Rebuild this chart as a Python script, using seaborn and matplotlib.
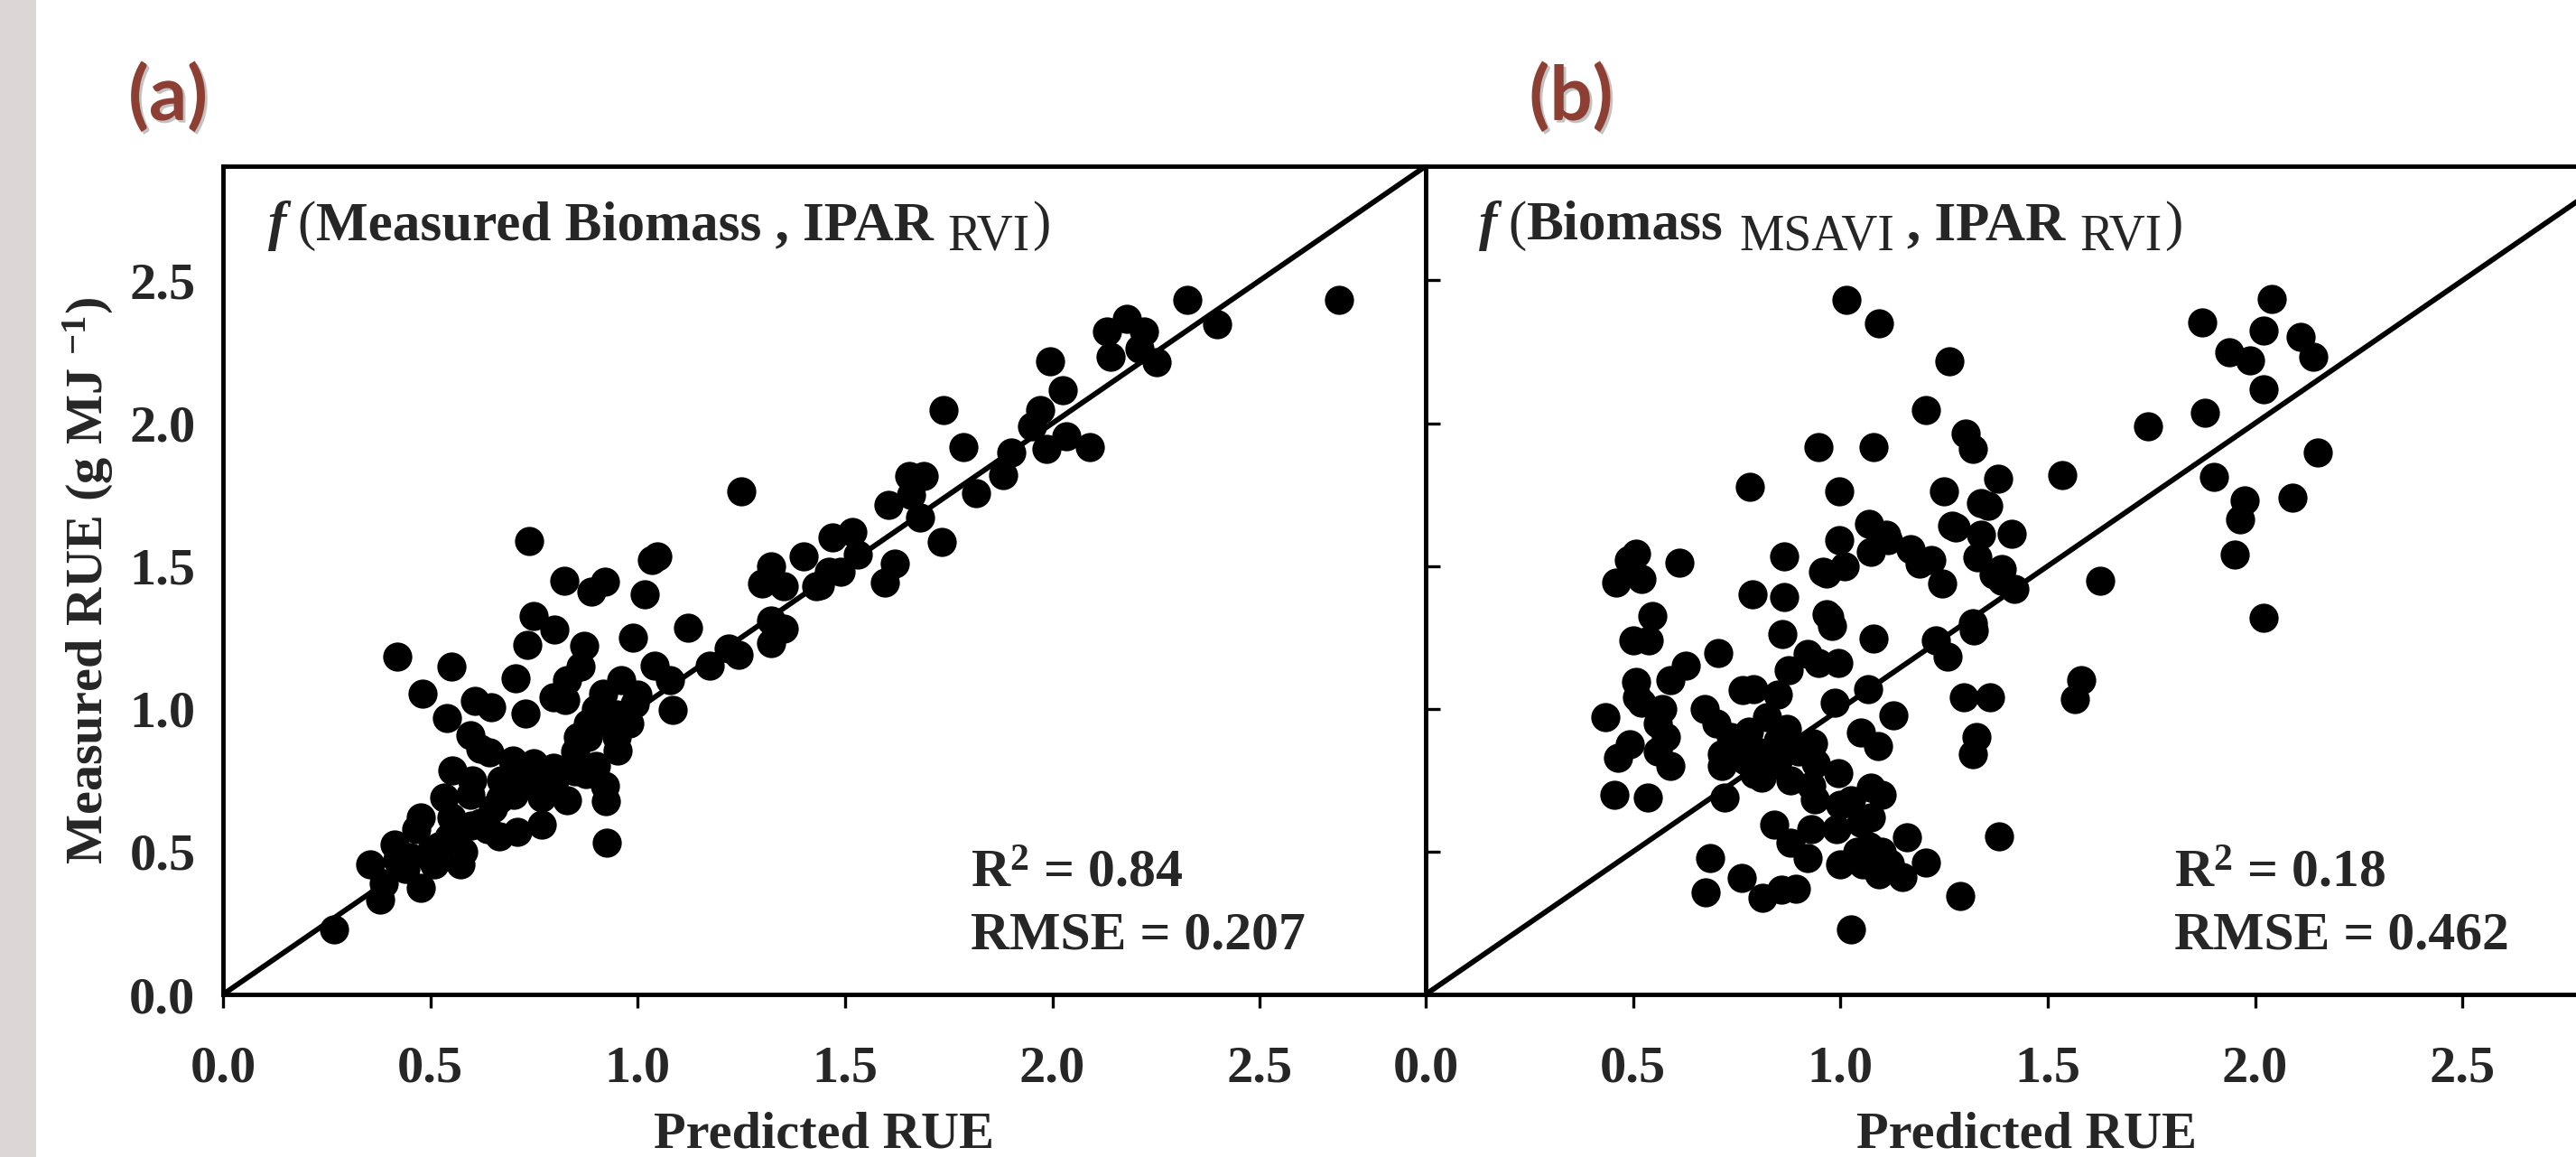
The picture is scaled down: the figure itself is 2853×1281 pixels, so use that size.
import numpy as np
import pandas as pd
import matplotlib
matplotlib.use("Agg")
import matplotlib.pyplot as plt
import matplotlib.patheffects as pe
import matplotlib.transforms as mtransforms
from matplotlib.patches import Rectangle
from matplotlib.ticker import FormatStrFormatter
import seaborn as sns

#%%
##### DATA #####
tick_vals = [0.0, 0.5, 1.0, 1.5, 2.0, 2.5]
axis_max = 2.9

# (a) f(Measured Biomass, IPAR_RVI): (predicted, measured)
points_a = [
    (0.267, 0.228), (0.355, 0.456), (0.379, 0.333), (0.388, 0.39), (0.413, 0.526),
    (0.45, 0.48), (0.476, 0.374), (0.51, 0.456), (0.467, 0.58), (0.476, 0.62),
    (0.534, 0.69), (0.545, 0.55), (0.573, 0.456), (0.598, 0.59), (0.637, 0.578),
    (0.667, 0.553), (0.71, 0.57), (0.768, 0.596), (0.596, 0.70), (0.668, 0.685),
    (0.768, 0.69), (0.83, 0.68), (0.553, 0.784), (0.597, 0.907), (0.642, 0.848),
    (0.699, 0.82), (0.749, 0.81), (0.797, 0.795), (0.875, 0.772), (0.952, 0.854),
    (0.922, 0.73), (0.924, 0.678), (0.926, 0.532), (0.856, 0.901), (0.931, 0.948),
    (0.993, 1.018), (1.084, 0.995), (1.078, 1.10), (1.04, 1.15), (0.916, 1.053),
    (0.826, 1.03), (0.797, 1.04), (0.729, 0.984), (0.647, 1.007), (0.608, 1.028),
    (0.705, 1.106), (0.863, 1.147), (0.871, 1.22), (0.734, 1.225), (0.798, 1.278),
    (0.749, 1.326), (0.989, 1.248), (1.121, 1.285), (1.017, 1.402), (0.889, 1.41),
    (0.824, 1.447), (0.921, 1.446), (1.047, 1.533), (1.035, 1.52), (0.737, 1.589),
    (0.42, 1.184), (0.551, 1.147), (0.481, 1.054), (0.540, 0.968), (1.173, 1.15),
    (1.22, 1.21), (1.244, 1.188), (1.322, 1.23), (1.353, 1.28), (1.322, 1.31),
    (1.30, 1.44), (1.322, 1.498), (1.353, 1.43), (1.40, 1.533), (1.43, 1.43),
    (1.46, 1.48), (1.47, 1.6), (1.25, 1.76),
    (0.88, 0.95), (0.90, 1.00), (0.95, 0.90), (0.98, 0.95), (1.00, 1.05),
    (0.85, 0.85), (0.78, 0.75), (0.72, 0.75), (0.65, 0.65), (0.62, 0.60),
    (0.50, 0.50), (0.44, 0.44), (0.58, 0.50), (0.83, 1.10), (0.96, 1.10),
    (0.55, 0.62), (0.60, 0.75), (0.67, 0.75), (0.70, 0.70), (0.75, 0.78),
    (0.80, 0.75), (0.85, 0.78), (0.90, 0.80), (0.88, 0.90), (0.95, 0.98),
    (0.62, 0.86), (0.52, 0.52), (0.42, 0.47),
    (1.44, 1.432), (1.49, 1.48), (1.518, 1.618), (1.53, 1.54), (1.595, 1.443),
    (1.62, 1.51), (1.605, 1.715), (1.654, 1.815), (1.69, 1.815), (1.66, 1.75),
    (1.68, 1.67), (1.732, 1.585), (1.737, 2.047), (1.785, 1.917), (1.815, 1.754),
    (1.88, 1.82), (1.90, 1.896), (1.95, 1.99), (1.97, 2.047), (1.985, 1.911),
    (2.033, 1.953), (2.09, 1.917), (1.994, 2.218), (2.024, 2.116), (2.131, 2.32),
    (2.179, 2.364), (2.22, 2.32), (2.21, 2.26), (2.14, 2.234), (2.252, 2.215),
    (2.325, 2.432), (2.398, 2.348), (2.69, 2.432),
]

# (b) f(Biomass_MSAVI, IPAR_RVI): (predicted, measured)
points_b = [
    (1.015, 2.432), (1.092, 2.351), (1.263, 2.218), (1.206, 2.047), (0.948, 1.918),
    (1.08, 1.918), (1.302, 1.963), (1.32, 1.91), (0.782, 1.777), (0.997, 1.76),
    (1.249, 1.76), (1.38, 1.805), (1.357, 1.71), (1.278, 1.636), (1.34, 1.61),
    (1.414, 1.614), (1.07, 1.647), (1.114, 1.59), (1.073, 1.55), (0.997, 1.59),
    (1.01, 1.50), (0.957, 1.48), (0.865, 1.533), (1.22, 1.52), (1.245, 1.44),
    (1.37, 1.47), (1.39, 1.45), (1.42, 1.42), (0.507, 1.543), (0.49, 1.52),
    (0.459, 1.443), (0.52, 1.455), (0.546, 1.324), (0.611, 1.511), (0.788, 1.40),
    (0.865, 1.39), (0.967, 1.33), (0.98, 1.29), (0.861, 1.263), (1.08, 1.245),
    (0.50, 1.24), (0.537, 1.24),
    (1.026, 0.228), (1.288, 0.345), (1.383, 0.552), (0.676, 0.357), (0.686, 0.479),
    (0.762, 0.409), (0.811, 0.339), (0.857, 0.366), (0.893, 0.37), (0.841, 0.596),
    (0.92, 0.479), (0.93, 0.58), (0.99, 0.58), (0.88, 0.53), (1.0, 0.456),
    (1.054, 0.456), (1.094, 0.42), (1.15, 0.41), (1.16, 0.55), (1.206, 0.462),
    (1.074, 0.725), (1.099, 0.70), (1.026, 0.68), (1.074, 0.62), (0.939, 0.683),
    (0.995, 0.775), (0.94, 0.81), (0.93, 0.73), (1.04, 0.50), (0.72, 0.69),
    (0.793, 0.772), (0.715, 0.80), (0.715, 0.84), (0.77, 0.82), (0.83, 0.80),
    (0.81, 0.76), (0.85, 0.89), (0.87, 0.93), (0.822, 0.971), (0.78, 0.92),
    (0.735, 0.90), (0.672, 1.0), (0.70, 0.95), (0.764, 1.065), (0.79, 1.07),
    (0.85, 1.05), (0.876, 1.136), (0.92, 1.193), (0.948, 1.16), (0.996, 1.16),
    (0.935, 0.88), (0.987, 1.02), (1.066, 1.07), (1.128, 0.978), (1.05, 0.918),
    (1.09, 0.87), (1.259, 1.182), (1.23, 1.24), (1.322, 1.275), (1.32, 1.30),
    (1.298, 1.04), (1.361, 1.04), (1.327, 0.90), (1.32, 0.84), (0.973, 1.323),
    (0.967, 1.475), (1.11, 1.61), (1.17, 1.56), (1.19, 1.51), (1.27, 1.64),
    (1.34, 1.72), (1.33, 1.53), (1.39, 1.49), (0.705, 1.196), (0.507, 1.095),
    (0.628, 1.152), (0.59, 1.10), (0.434, 0.97), (0.52, 1.02), (0.57, 1.0),
    (0.56, 0.95), (0.58, 0.90), (0.492, 0.877), (0.463, 0.83), (0.454, 0.70),
    (0.536, 0.69), (0.56, 0.85), (0.59, 0.80), (0.51, 1.04),
    (0.80, 0.85), (0.85, 0.82), (0.90, 0.85), (0.75, 0.87), (0.88, 0.75),
    (1.10, 0.50), (1.12, 0.46), (1.07, 0.52), (1.00, 0.665), (1.05, 0.60),
    (2.04, 2.435), (1.873, 2.353), (2.02, 2.323), (2.11, 2.302), (2.14, 2.234),
    (1.937, 2.247), (1.988, 2.22), (2.02, 2.118), (1.878, 2.036), (1.742, 1.988),
    (2.151, 1.896), (1.90, 1.813), (1.535, 1.82), (1.974, 1.73), (2.09, 1.74),
    (1.963, 1.665), (1.95, 1.54), (1.626, 1.45), (2.021, 1.32), (1.58, 1.10),
    (1.565, 1.035),
]

# title pieces: (text, style, gap before in px, baseline shift in px)
title_a = [("f", "it", 0, 0), ("(", "rm", 12, 0), ("Measured Biomass , IPAR", "bf", 0, 0),
           ("RVI", "sub", 16, -12), (")", "rm", 2, 0)]
title_b = [("f", "it", 0, 0), ("(", "rm", 12, 0), ("Biomass", "bf", 0, 0),
           ("MSAVI", "sub", 18, -12), (", IPAR", "bf", 14, 0),
           ("RVI", "sub", 16, -12), (")", "rm", 2, 0)]
r2_texts = [r"R$^{\mathbf{2}}$ = 0.84", r"R$^{\mathbf{2}}$ = 0.18"]
rmse_texts = ["RMSE = 0.207", "RMSE = 0.462"]
panel_tags = ["(a)", "(b)"]
##### END DATA #####

#%%
sns.set_style("ticks")
plt.rcParams['font.family'] = ['Liberation Serif', 'DejaVu Serif']
plt.rcParams['font.weight'] = 'bold'
plt.rcParams['mathtext.fontset'] = 'custom'
plt.rcParams['mathtext.rm'] = 'Liberation Serif'
plt.rcParams['mathtext.it'] = 'Liberation Serif:italic:bold'
plt.rcParams['mathtext.bf'] = 'Liberation Serif:bold'

W, H = 2853, 1281
fig = plt.figure(figsize=(W / 100, H / 100), dpi=100)
fig.patch.set_facecolor('white')
renderer = fig.canvas.get_renderer()

# grey strip on the left edge
fig.patches.append(Rectangle((0, 0), 40 / W, 1, transform=fig.transFigure,
                             facecolor='#DDD6D6', edgecolor='none', zorder=0))

ax_w, ax_h = 1332 / W, 917 / H
ax_bottom = 180 / H
ax_a = fig.add_axes([247 / W, ax_bottom, ax_w, ax_h])
ax_b = fig.add_axes([1579 / W, ax_bottom, ax_w, ax_h])

styles = {
    "it": dict(fontsize=44, style='italic', fontweight='bold'),
    "rm": dict(fontsize=44, fontweight='normal'),
    "bf": dict(fontsize=44, fontweight='bold'),
    "sub": dict(fontsize=40, fontweight='normal'),
}


def chain_text(ax, x, y, pieces):
    # place text pieces one after another along a common baseline
    off = 0.0
    for s, st, gap, dy in pieces:
        off += gap
        tr = mtransforms.offset_copy(ax.transAxes, fig=ax.figure, x=off, y=dy, units='dots')
        t = ax.text(x, y, s, transform=tr, va='baseline', ha='left', **styles[st])
        off += t.get_window_extent(renderer).width


tag_x = [186 / W, 1740 / W]
title_x = [0.0375, 0.0443]
stats_x = [0.6216, 0.6224]

for i, (ax, pts, tpieces) in enumerate(zip([ax_a, ax_b], [points_a, points_b],
                                           [title_a, title_b])):
    df = pd.DataFrame(pts, columns=["predicted", "measured"])
    sns.scatterplot(data=df, x="predicted", y="measured", ax=ax, color='black',
                    s=540, linewidth=0, legend=False, zorder=3)
    ax.axline((0, 0), slope=1, color='black', lw=4.2, zorder=2)

    ax.set_xlim(0, axis_max)
    ax.set_ylim(0, axis_max)
    ax.set_xticks(tick_vals)
    ax.set_yticks(tick_vals)
    ax.xaxis.set_major_formatter(FormatStrFormatter('%.1f'))
    ax.yaxis.set_major_formatter(FormatStrFormatter('%.1f'))
    for sp in ax.spines.values():
        sp.set_visible(True)
        sp.set_linewidth(3.5)
        sp.set_color('black')

    ax.tick_params(axis='x', direction='out', length=10.5, width=2.4,
                   labelsize=42, pad=30, color='black')
    ax.set_xlabel("Predicted RUE", fontsize=42, fontweight='bold')
    ax.xaxis.set_label_coords(0.5, -0.141)

    chain_text(ax, title_x[i], 0.9117, tpieces)
    ax.text(stats_x[i], 0.1298, r2_texts[i], transform=ax.transAxes, fontsize=43,
            fontweight='bold', va='baseline', ha='left')
    ax.text(stats_x[i], 0.0556, rmse_texts[i], transform=ax.transAxes, fontsize=43,
            fontweight='bold', va='baseline', ha='left')

    fig.text(tag_x[i], 1 - 108 / H, panel_tags[i], fontsize=60, fontweight='bold',
             family=['Lato', 'DejaVu Sans'], color='#8E3F33', ha='center', va='center',
             path_effects=[pe.withSimplePatchShadow(offset=(2, -2), shadow_rgbFace='#888888',
                                                    alpha=0.5)])

# left panel: labels on y, no tick marks
ax_a.tick_params(axis='y', length=0, labelsize=42, pad=22)
ax_a.set_ylabel(r"Measured RUE (g MJ $^{\mathbf{-1}}$)", fontsize=42, fontweight='bold')
ax_a.yaxis.set_label_coords(-0.0893, 0.5)

# right panel: inward ticks, no labels
ax_b.tick_params(axis='y', direction='in', length=11.5, width=2.4,
                 labelleft=False, color='black')
ax_b.set_ylabel("")

fig.savefig("out.png", dpi=100)
